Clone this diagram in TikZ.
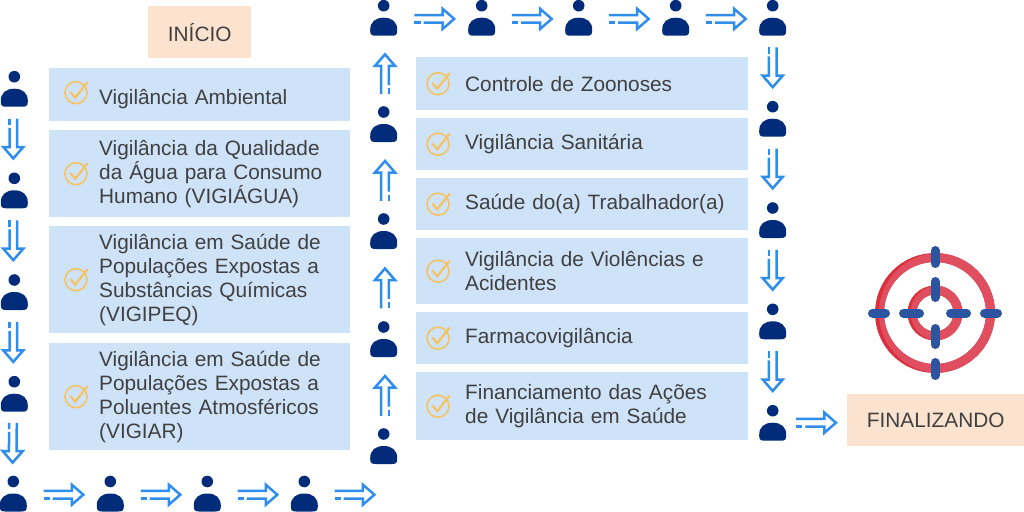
\documentclass[tikz,border=0pt]{standalone}
\usepackage{fontspec}
\setmainfont{Liberation Sans}
\usetikzlibrary{decorations.markings}
\definecolor{boxblue}{HTML}{CEE2F8}
\definecolor{boxpeach}{HTML}{FBE3D0}
\definecolor{textgrey}{HTML}{404040}
\definecolor{personblue}{HTML}{022C7A}
\definecolor{arrowblue}{HTML}{2F8DEB}
\definecolor{checkyellow}{HTML}{F5C362}
\definecolor{targetred}{HTML}{E04F5F}
\definecolor{targetdark}{HTML}{DB2F3C}
\definecolor{targetblue}{HTML}{2B55A0}
\tikzset{
  itembox/.style={fill=boxblue, anchor=north west, inner sep=0pt, text=textgrey,
    font=\fontsize{20.8}{24}\selectfont},
  leftbox/.style={itembox, text width=301pt, execute at begin node={\leftskip=50pt\relax}},
  rightbox/.style={itembox, text width=332pt, execute at begin node={\leftskip=49pt\relax}},
  stagebox/.style={fill=boxpeach, anchor=north west, inner sep=0pt, text=textgrey,
    font=\fontsize{20.8}{24}\selectfont, minimum height=52pt},
  person/.style={minimum width=28pt, minimum height=37pt, inner sep=0pt, path picture={
    \begin{scope}[shift={(path picture bounding box.center)}]
      \fill[personblue] (0,-12) circle (5.8);
      \fill[personblue] (-13.5,13) .. controls (-14,4) and (-8,0) .. (0,0)
        .. controls (8,0) and (14,4) .. (13.5,13)
        .. controls (13.5,17) and (12,18) .. (8,18) -- (-8,18)
        .. controls (-12,18) and (-13.5,17) .. (-13.5,13) -- cycle;
    \end{scope}}},
  checkmark/.style={minimum size=30pt, inner sep=0pt, path picture={
    \begin{scope}[shift={(path picture bounding box.center)}, checkyellow]
      \draw[line width=1.6pt] (0,0) circle (11);
      \draw[line width=2.2pt] (-5.7,-0.7) -- (-0.7,5) -- (11.7,-10.7);
    \end{scope}}},
  flowarrow/.style={decoration={markings, mark=at position 0.5 with {
    \begin{scope}[shift={#1}]
      \draw[arrowblue, line width=2.5pt] (-20.8,-3.8) -- (7.5,-3.8) -- (7.5,-10) -- (19,0)
        -- (7.5,10) -- (7.5,3.8) -- (-11.7,3.8);
      \draw[arrowblue, line width=2.5pt] (-20.8,3.8) -- (-14.5,3.8);
    \end{scope}
  }}, decorate},
  flowarrow/.default={(0,0)}
}
\begin{document}
\begin{tikzpicture}[x=1pt, y=-1pt]
  \useasboundingbox (0,0) rectangle (1024,511);

  \node[stagebox, minimum width=103pt] (inicio) at (148,6) {INÍCIO};
  \node[stagebox, minimum width=177pt] (finalizando) at (847,394) {FINALIZANDO};

  \node[leftbox, minimum height=53pt] (v1) at (49,68) {\rule{0pt}{24pt}Vigilância Ambiental};
  \node[leftbox, minimum height=87pt] (v2) at (49,130) {Vigilância da Qualidade\\da Água para Consumo\\Humano (VIGIÁGUA)};
  \node[leftbox, minimum height=107pt] (v3) at (49,226) {Vigilância em Saúde de\\Populações Expostas a\\Substâncias Químicas\\(VIGIPEQ)};
  \node[leftbox, minimum height=107pt] (v4) at (49,343) {Vigilância em Saúde de\\Populações Expostas a\\Poluentes Atmosféricos\\(VIGIAR)};

  \node[rightbox, minimum height=53pt] (c1) at (416,57) {Controle de Zoonoses};
  \node[rightbox, minimum height=52pt] (c2) at (416,118) {Vigilância Sanitária};
  \node[rightbox, minimum height=52pt] (c3) at (416,178) {Saúde do(a) Trabalhador(a)};
  \node[rightbox, minimum height=66pt] (c4) at (416,238) {Vigilância de Violências e\\Acidentes};
  \node[rightbox, minimum height=52pt] (c5) at (416,312) {Farmacovigilância};
  \node[rightbox, minimum height=68pt] (c6) at (416,372) {Financiamento das Ações\\de Vigilância em Saúde};

  \foreach \boxname/\dy in {v1/2,v2/0,v3/0,v4/0}
    \node[checkmark] (check\boxname) at ([xshift=27pt,yshift=\dy pt]\boxname.west) {};
  \foreach \boxname in {c1,c2,c3,c4,c5,c6}
    \node[checkmark] (check\boxname) at ([xshift=22pt]\boxname.west) {};

  % first column, downwards
  \node[person] (p1) at (14.3,88.7) {};
  \node[person] (p2) at (14.3,190.3) {};
  \node[person] (p3) at (14.3,292) {};
  \node[person] (p4) at (14.3,393.7) {};
  \node[person] (p5) at (13.3,493.5) {};
  \node[person] (p6) at (110.3,493.5) {};
  \node[person] (p7) at (207.3,493.5) {};
  \node[person] (p8) at (304.3,493.5) {};
  \coordinate (e1) at (387.3,493.5);
  % second column, upwards
  \node[person] (q1) at (383.7,446) {};
  \node[person] (q2) at (383.7,339) {};
  \node[person] (q3) at (383.7,231) {};
  \node[person] (q4) at (383.7,124) {};
  \node[person] (q5) at (383.7,17.7) {};
  \node[person] (q6) at (481.7,17.7) {};
  \node[person] (q7) at (578.7,17.7) {};
  \node[person] (q8) at (675.7,17.7) {};
  \node[person] (q9) at (772.7,17.7) {};
  % third column, downwards
  \node[person] (r1) at (772.7,118.7) {};
  \node[person] (r2) at (772.7,220) {};
  \node[person] (r3) at (772.7,321.3) {};
  \node[person] (r4) at (772.7,422.7) {};

  \foreach \from/\to in {p1/p2,p2/p3,p3/p4,p4/p5}
    \path[flowarrow={(0,1)}] (\from) -- (\to);
  \foreach \from/\to in {p5/p6,p6/p7,p7/p8,p8/e1,q5/q6,q6/q7,q7/q8,q8/q9}
    \path[flowarrow={(2.5,1.2)}] (\from) -- (\to);
  \foreach \from/\to in {q1/q2,q2/q3,q3/q4,q4/q5}
    \path[flowarrow={(-2.5,1.3)}] (\from) -- (\to);
  \foreach \from/\to in {q9/r1,r1/r2,r2/r3,r3/r4}
    \path[flowarrow] (\from) -- (\to);
  \path[flowarrow] (r4) -- (r4 -| finalizando.west);

  % target
  \coordinate (aim) at (935,313);
  \draw[targetdark, line width=9pt] (aim) circle (55.5);
  \draw[targetdark, line width=9pt] (aim) circle (23);
  \begin{scope}
    \clip ([xshift=4pt]aim) circle (60) ;
    \draw[targetred, line width=9pt] (aim) circle (55.5);
  \end{scope}
  \begin{scope}
    \clip ([xshift=3pt]aim) circle (27.5);
    \draw[targetred, line width=9pt] (aim) circle (23);
  \end{scope}
  \foreach \ang in {0,90,180,270} {
    \draw[targetblue, line width=9pt, line cap=round] ([shift={(\ang:49.5)}]aim) -- ([shift={(\ang:62.5)}]aim);
    \draw[targetblue, line width=9pt, line cap=round] ([shift={(\ang:15.5)}]aim) -- ([shift={(\ang:31.5)}]aim);
  }
\end{tikzpicture}
\end{document}
